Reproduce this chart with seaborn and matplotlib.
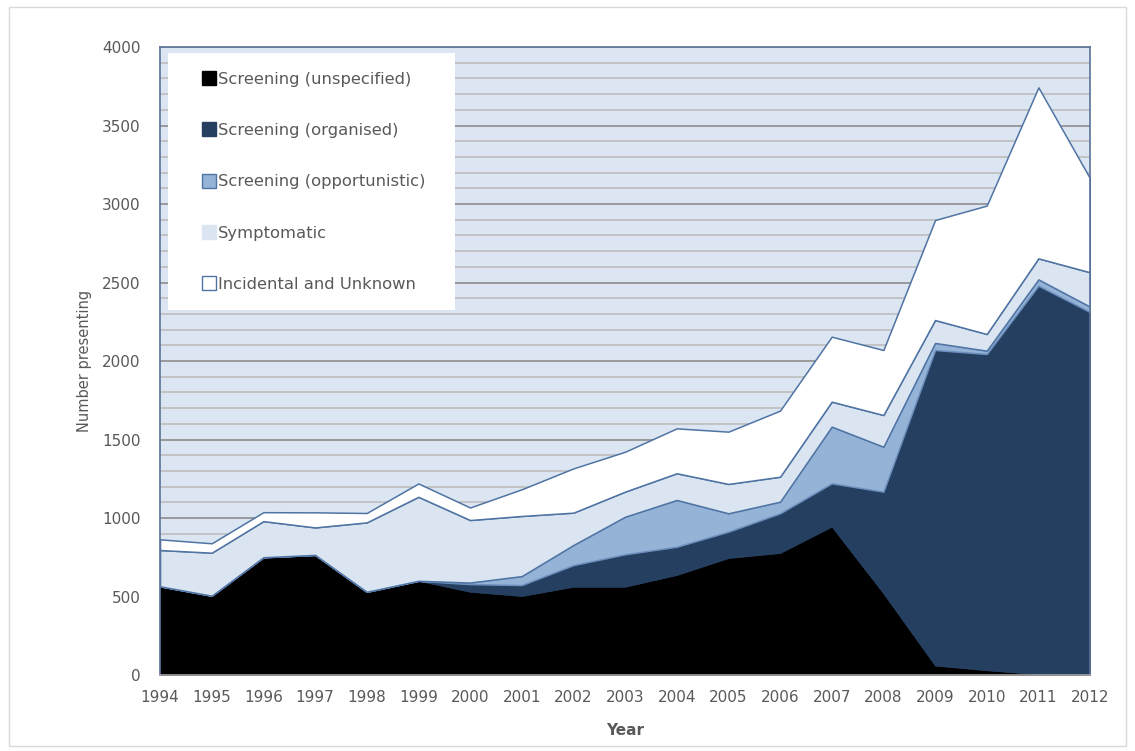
import seaborn as sns
import matplotlib.pyplot as plt
from matplotlib.patches import Rectangle
from matplotlib.lines import Line2D
from matplotlib.ticker import MultipleLocator

years = list(range(1994, 2013))
unspecified = [565, 505, 750, 765, 530, 600, 530, 503, 562, 562, 637, 745, 777, 945, 520, 60, 30, 5, 0]
organised = [0, 0, 0, 0, 0, 0, 49, 70, 138, 207, 180, 168, 253, 276, 648, 2010, 2015, 2475, 2312]
opportunistic = [0, 0, 0, 0, 0, 0, 10, 57, 128, 239, 298, 117, 74, 361, 286, 45, 21, 40, 34]
symptomatic = [231, 274, 230, 175, 442, 535, 398, 383, 206, 160, 170, 187, 159, 159, 202, 146, 106, 134, 219]
incidental = [68, 60, 57, 96, 60, 85, 80, 170, 282, 254, 286, 333, 421, 414, 414, 637, 818, 1089, 598]

labels = ['Screening (unspecified)', 'Screening (organised)', 'Screening (opportunistic)',
          'Symptomatic', 'Incidental and Unknown']
colors = ['#000000', '#243F60', '#95B3D7', '#DBE5F1', '#FFFFFF']
edges = ['#000000', '#243F60', '#6D8FBE', '#4F74A3', '#4F74A3']
legend_edges = ['#000000', '#243F60', '#4F74A3', '#DBE5F1', '#4F74A3']

sns.set_style("white")
plt.rcParams['font.family'] = ['DejaVu Sans']

fig = plt.figure(figsize=(11.35, 7.51), dpi=100)
ax = fig.add_axes([0.141, 0.1012, 0.8194, 0.8362])
ax.set_facecolor('#DCE6F2')

# outer frame of the chart
fig.patches.append(Rectangle((0.008, 0.006), 0.984, 0.985, transform=fig.transFigure,
                             fill=False, edgecolor='#D9D9D9', linewidth=1))

polys = ax.stackplot(years, unspecified, organised, opportunistic, symptomatic, incidental,
                     colors=colors, zorder=3)
for p, ec in zip(polys, edges):
    p.set_edgecolor(ec)
    p.set_linewidth(1.1 if ec not in ('#000000', '#243F60') else 0.5)

ax.set_xlim(1994, 2012)
ax.set_ylim(0, 4000)
ax.set_xticks(years)
ax.yaxis.set_major_locator(MultipleLocator(500))
ax.yaxis.set_minor_locator(MultipleLocator(100))
ax.grid(which='minor', axis='y', color='#BDBDBD', linewidth=1.2, zorder=0)
ax.grid(which='major', axis='y', color='#8C8C8C', linewidth=1.2, zorder=0)
ax.set_axisbelow(True)
ax.tick_params(axis='both', which='both', length=0, labelsize=11, labelcolor='#595959')
ax.tick_params(axis='y', pad=14)
ax.tick_params(axis='x', pad=11)

for s in ['left', 'top', 'right']:
    ax.spines[s].set_color('#5A7398')
    ax.spines[s].set_linewidth(1.2)
ax.spines['bottom'].set_color('#A6A6A6')
ax.spines['bottom'].set_linewidth(1.2)
for s in ax.spines.values():
    s.set_zorder(5)

ax.set_xlabel('Year', fontsize=11, fontweight='bold', color='#595959', labelpad=13)
ax.set_ylabel('Number presenting', fontsize=10.5, color='#595959', labelpad=7)

# white legend panel
ax.add_patch(Rectangle((0.0086, 0.581), 0.3086, 0.4094, transform=ax.transAxes,
                       facecolor='white', edgecolor='none', zorder=6))

handles = [Line2D([], [], linestyle='', marker='s', markersize=9.5, markerfacecolor=c,
                  markeredgecolor=e, markeredgewidth=1)
           for c, e in zip(colors, legend_edges)]
leg = ax.legend(handles, labels, loc='upper left', bbox_to_anchor=(0.044, 0.961),
                frameon=False, fontsize=11.8, labelspacing=2.22,
                handlelength=1.0, handletextpad=0.05,
                borderpad=0, borderaxespad=0)
for t in leg.get_texts():
    t.set_color('#595959')
leg.set_zorder(7)

plt.savefig('out.png', dpi=100)
